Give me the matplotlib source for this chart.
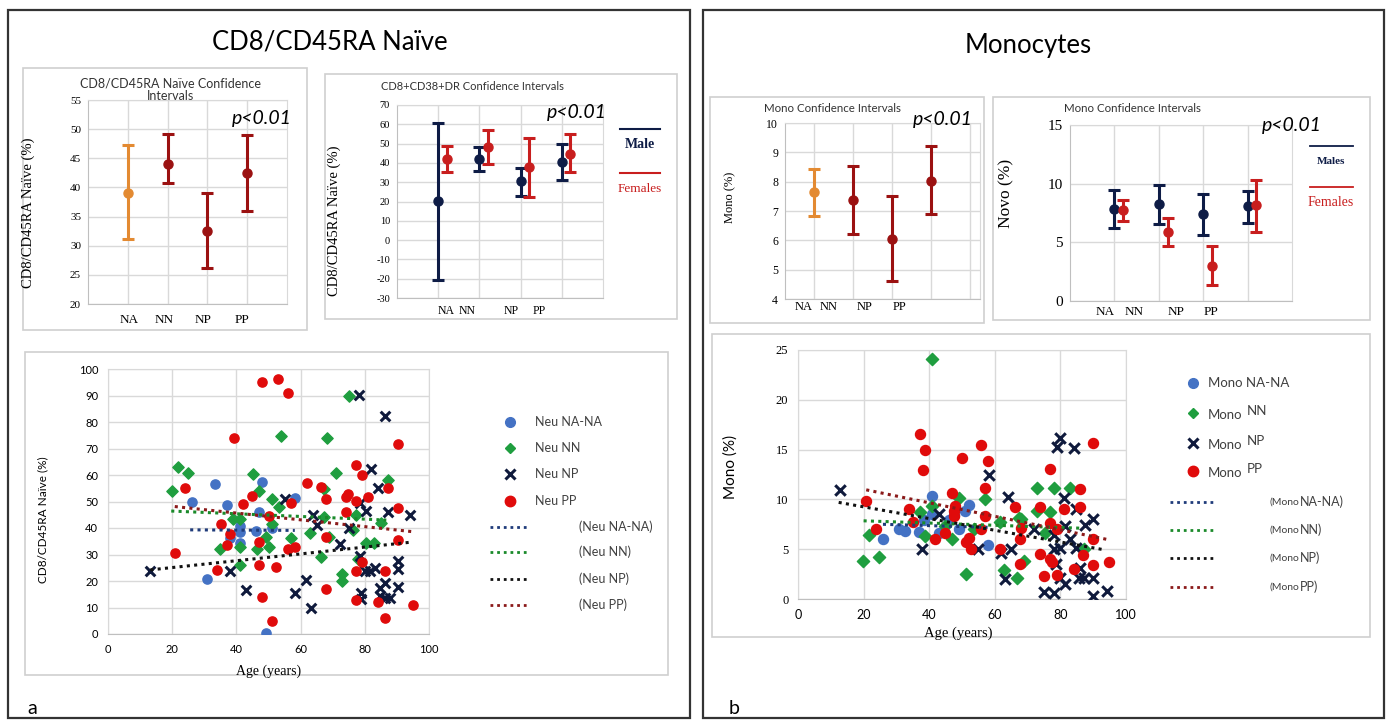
import numpy as np
import matplotlib.pyplot as plt
from matplotlib.patches import Rectangle

W, H = 1389, 722
SANS = ['Lato', 'DejaVu Sans']
SERIF = ['Liberation Serif', 'DejaVu Serif']
plt.rcParams['font.family'] = SANS
plt.rcParams['axes.unicode_minus'] = False

groups = ['NA', 'NN', 'NP', 'PP']

# CD8/CD45RA naive, confidence intervals (all subjects)
naive_mean = [39.1, 44.0, 32.6, 42.4]
naive_low = [31.1, 40.7, 26.1, 36.0]
naive_high = [47.3, 49.2, 39.1, 49.0]

# CD8+CD38+DR, confidence intervals by sex
dr_male_mean = [20.2, 41.8, 30.7, 40.4]
dr_male_low = [-20.5, 35.6, 23.1, 31.2]
dr_male_high = [60.5, 48.2, 37.3, 49.8]
dr_female_mean = [41.8, 48.4, 37.8, 44.5]
dr_female_low = [35.4, 39.2, 22.2, 35.4]
dr_female_high = [48.9, 57.2, 52.7, 55.1]

# monocytes, confidence intervals (all subjects)
mono_mean = [7.65, 7.36, 6.05, 8.02]
mono_low = [6.84, 6.23, 4.63, 6.90]
mono_high = [8.44, 8.52, 7.52, 9.20]

# monocytes, confidence intervals by sex
novo_male_mean = [7.80, 8.27, 7.40, 8.10]
novo_male_low = [6.20, 6.60, 5.65, 6.65]
novo_male_high = [9.50, 9.86, 9.10, 9.40]
novo_female_mean = [7.73, 5.90, 3.00, 8.15]
novo_female_low = [6.80, 4.70, 1.40, 5.90]
novo_female_high = [8.58, 7.10, 4.66, 10.30]

# CD8/CD45RA naive vs age, per group
neu_na_age = [26.2, 33.2, 37.1, 48.0, 47.0, 41.0, 41.0, 38.1, 46.2, 51.2, 58.2, 41.0, 30.9, 49.2]
neu_na_val = [49.9, 56.6, 48.8, 57.2, 45.9, 40.9, 38.6, 36.1, 38.9, 39.9, 51.2, 34.2, 20.9, 0.3]
neu_nn_age = [20.0, 21.9, 25.0, 38.9, 41.0, 35.0, 41.0, 41.0, 45.2, 47.0, 46.3, 49.3, 50.1, 51.1,
              51.1, 53.3, 54.0, 57.1, 62.8, 66.2, 67.2, 67.2, 68.2, 71.0, 73.0, 73.0, 75.1, 77.2,
              80.3, 83.0, 85.1, 87.3, 76.3, 69.0, 78.0]
neu_nn_val = [54.0, 62.9, 60.9, 43.3, 43.3, 32.1, 33.0, 26.0, 60.4, 54.0, 31.9, 36.5, 33.0, 50.9,
              41.4, 48.1, 74.8, 36.1, 38.2, 28.9, 44.3, 54.6, 74.1, 60.9, 22.6, 20.1, 89.8, 44.9,
              34.5, 34.5, 42.0, 58.1, 39.2, 36.7, 28.3]
neu_np_age = [13.2, 37.9, 43.1, 55.0, 58.2, 61.8, 63.9, 65.2, 63.1, 72.2, 75.1, 78.2, 82.0, 78.4,
              80.5, 84.1, 86.2, 87.3, 94.0, 78.4, 80.0, 81.5, 83.1, 78.9, 78.9, 84.6, 84.6, 86.2,
              87.7, 86.2, 90.2, 90.2, 90.2]
neu_np_val = [23.8, 23.8, 16.6, 50.9, 15.3, 20.4, 44.9, 41.1, 9.9, 33.8, 39.9, 90.2, 62.3, 49.6,
              46.5, 55.0, 82.3, 45.9, 44.9, 29.4, 23.8, 23.8, 24.8, 15.3, 13.3, 17.2, 14.3, 13.5,
              13.5, 19.4, 27.5, 24.7, 17.9]
neu_pp_age = [21.0, 24.1, 33.9, 35.1, 37.1, 38.1, 39.2, 42.2, 45.0, 47.0, 47.0, 48.1, 48.1, 50.1,
              51.1, 52.2, 53.1, 56.1, 56.1, 57.1, 58.2, 62.0, 66.2, 68.0, 68.0, 68.0, 74.0, 74.8,
              74.0, 77.2, 77.2, 79.2, 81.0, 77.2, 77.2, 79.2, 84.1, 86.2, 86.2, 87.3, 90.2, 90.2,
              90.2, 95.0]
neu_pp_val = [30.4, 55.0, 24.2, 41.5, 33.6, 37.6, 74.1, 48.9, 52.1, 34.6, 26.0, 95.0, 14.1, 44.7,
              4.9, 25.3, 96.1, 91.1, 31.9, 49.3, 33.0, 57.1, 55.6, 50.9, 36.5, 16.9, 51.6, 52.8,
              45.9, 63.8, 50.2, 60.0, 51.8, 23.9, 12.8, 27.0, 12.2, 23.8, 6.2, 55.0, 47.4, 35.5,
              71.6, 10.9]
# linear trends (start age, end age, start value, end value) for NA-NA, NN, NP, PP
neu_trend_x0 = [25.6, 19.7, 13.2, 20.8]
neu_trend_x1 = [58.2, 86.7, 94.0, 95.0]
neu_trend_y0 = [39.3, 46.4, 24.2, 48.1]
neu_trend_y1 = [39.1, 43.0, 34.6, 38.6]

# monocytes vs age, per group
mono_na_age = [25.9, 30.7, 32.7, 36.8, 38.3, 40.9, 40.9, 43.0, 46.0, 49.0, 52.0, 51.0, 57.8, 47.5]
mono_na_val = [6.0, 7.05, 6.8, 6.7, 7.95, 10.3, 8.5, 6.6, 7.95, 7.05, 9.4, 8.8, 5.45, 8.4]
mono_nn_age = [19.8, 21.5, 24.6, 37.1, 38.8, 40.9, 40.9, 46.9, 49.2, 44.9, 51.3, 53.6, 56.9, 61.7,
               62.9, 66.8, 67.3, 68.1, 68.8, 72.9, 72.9, 75.4, 76.9, 77.9, 83.0, 87.3]
mono_nn_val = [3.78, 6.4, 4.2, 8.7, 6.3, 24.1, 9.3, 6.0, 10.1, 7.3, 2.5, 7.0, 10.0, 7.7,
               2.9, 2.1, 8.1, 8.0, 3.8, 11.1, 8.8, 6.6, 8.7, 11.1, 11.1, 5.0]
mono_np_age = [12.9, 37.8, 43.0, 54.9, 58.1, 62.0, 63.0, 64.0, 65.0, 71.8, 74.9, 77.9, 77.9, 77.9,
               78.7, 79.0, 80.0, 80.0, 80.0, 81.0, 81.5, 81.5, 83.0, 84.0, 84.9, 84.9, 85.6, 86.1,
               87.1, 87.6, 89.8, 89.8, 89.8, 94.2]
mono_np_val = [10.96, 5.0, 8.5, 5.0, 12.4, 4.6, 2.0, 10.2, 5.0, 7.0, 0.67, 0.6, 6.45, 5.0,
               3.5, 15.3, 16.2, 5.1, 2.1, 10.1, 7.35, 1.5, 6.0, 15.2, 9.0, 5.1, 2.1, 3.1,
               2.1, 7.45, 8.0, 2.1, 0.33, 0.77]
mono_pp_age = [20.8, 23.9, 33.9, 35.0, 37.1, 38.8, 38.0, 41.9, 44.9, 47.0, 47.5, 48.0, 47.5, 50.0,
               51.2, 52.2, 52.7, 55.7, 55.7, 56.9, 56.9, 57.9, 61.7, 66.1, 67.8, 67.8, 68.1, 73.9,
               73.9, 74.9, 76.9, 76.9, 76.9, 77.4, 79.0, 79.0, 81.0, 84.0, 85.9, 85.9, 86.9, 89.8,
               89.8, 89.8, 94.9]
mono_pp_val = [9.8, 7.05, 9.06, 7.7, 16.6, 15.0, 13.0, 6.0, 6.6, 10.6, 8.8, 9.3, 8.3, 14.2,
               5.7, 6.1, 5.0, 7.0, 15.5, 11.1, 8.35, 13.9, 5.0, 9.2, 6.0, 3.5, 7.1, 9.2,
               4.5, 2.3, 13.1, 7.6, 4.0, 3.7, 7.05, 2.4, 9.06, 3.0, 9.2, 11.0, 4.45, 6.0,
               3.4, 15.7, 3.7]
mono_trend_x0 = [25.9, 20.0, 12.4, 20.8]
mono_trend_x1 = [57.8, 87.0, 93.2, 94.7]
mono_trend_y0 = [7.5, 7.85, 9.7, 10.96]
mono_trend_y1 = [7.2, 7.1, 4.95, 5.95]

ORANGE = '#e38a32'
DARKRED = '#9b1111'
NAVY = '#0e1c46'
FRED = '#c81e1e'
GRID = '#d9d9d9'
SC_BLUE = '#4472c4'
SC_GREEN = '#1f9e3f'
SC_NAVY = '#0f1a3c'
SC_RED = '#e00b0b'
TREND = ['#1f3b7a', '#1a8a2a', '#111111', '#8b1a1a']

fig = plt.figure(figsize=(W / 100, H / 100), dpi=100)


def px_axes(x0, y0, x1, y1):
    # axes placed by pixel box (top-left origin)
    return fig.add_axes([x0 / W, 1 - y1 / H, (x1 - x0) / W, (y1 - y0) / H])


# background layer in pixel units for frames, titles and legends
bg = fig.add_axes([0, 0, 1, 1])
bg.set_xlim(0, W)
bg.set_ylim(H, 0)
bg.axis('off')

for x0, y0, x1, y1 in [(8, 10, 690, 718), (703, 10, 1384, 718)]:
    bg.add_patch(Rectangle((x0, y0), x1 - x0, y1 - y0, fill=False, ec='#333333', lw=1.6))
for x0, y0, x1, y1 in [(23, 68, 307, 330), (325, 74, 677, 319), (710, 97, 984, 323),
                       (993, 97, 1370, 320), (25, 352, 668, 675), (712, 334, 1370, 637)]:
    bg.add_patch(Rectangle((x0, y0), x1 - x0, y1 - y0, fill=False, ec='#cfcfcf', lw=1.2))

bg.text(330, 42, 'CD8/CD45RA Naïve', fontsize=18.5, ha='center', va='center')
bg.text(1028, 45, 'Monocytes', fontsize=18.5, ha='center', va='center')
bg.text(27, 708, 'a', fontsize=14, ha='left', va='center')
bg.text(729, 708, 'b', fontsize=14, ha='left', va='center')

bg.text(170, 90, 'CD8/CD45RA Naïve Confidence\nIntervals', fontsize=9, ha='center',
        va='center', linespacing=1.1, color='#333333')
bg.text(472, 87, 'CD8+CD38+DR Confidence Intervals', fontsize=8, ha='center', va='center',
        color='#333333')
bg.text(833, 109, 'Mono Confidence Intervals', fontsize=8.3, ha='center', va='center',
        color='#333333')
bg.text(1132, 109, 'Mono Confidence Intervals', fontsize=8.3, ha='center', va='center',
        color='#333333')


def style_ci(ax, xlim, xgrid, ylim, yticks, tick_size):
    ax.set_xlim(*xlim)
    ax.set_ylim(*ylim)
    ax.set_xticks(xgrid)
    ax.set_xticklabels([])
    ax.set_yticks(yticks)
    ax.tick_params(length=0, labelsize=tick_size, pad=5)
    for lab in ax.get_yticklabels():
        lab.set_family(SERIF)
    ax.grid(color=GRID, lw=1)
    ax.set_axisbelow(True)
    for s in ax.spines.values():
        s.set_color(GRID)
    ax.spines['left'].set_color('#bfbfbf')
    ax.spines['bottom'].set_color('#bfbfbf')


def draw_ci(ax, x, mean, low, high, colors):
    for xi, m, lo, hi, c in zip(x, mean, low, high, colors):
        ax.errorbar([xi], [m], yerr=[[m - lo], [hi - m]], fmt='o', color=c, ms=6.5,
                    capsize=4, elinewidth=2.2, capthick=2.2, zorder=3)


def cat_labels(ax, xs, y, size):
    for xi, g in zip(xs, groups):
        ax.text(xi, y, g, transform=ax.get_xaxis_transform(), ha='center', va='center',
                fontsize=size, family=SERIF, clip_on=False)


def p_label(ax, x, y):
    ax.text(x, y, 'p<0.01', transform=ax.transAxes, ha='center', va='center',
            fontsize=14, style='italic', clip_on=False)


pos = np.arange(1, 5)

# CD8/CD45RA naive CI
a1 = px_axes(88, 100, 287, 304)
style_ci(a1, (0, 5), [1, 2, 3, 4], (20, 55), np.arange(20, 56, 5), 8)
draw_ci(a1, pos, naive_mean, naive_low, naive_high, [ORANGE, DARKRED, DARKRED, DARKRED])
cat_labels(a1, [1.03, 1.9, 2.9, 3.86], -0.078, 9.5)
a1.set_ylabel('CD8/CD45RA Naïve (%)', family=SERIF, fontsize=10.5)
a1.yaxis.set_label_coords(-0.266, 0.446)
p_label(a1, 0.874, 0.91)

# CD8+CD38+DR CI by sex
a2 = px_axes(397, 105, 603, 298)
style_ci(a2, (0, 5), [1, 2, 3, 4], (-30, 70), np.arange(-30, 71, 10), 7.5)
draw_ci(a2, pos, dr_male_mean, dr_male_low, dr_male_high, [NAVY] * 4)
draw_ci(a2, pos + 0.21, dr_female_mean, dr_female_low, dr_female_high, [FRED] * 4)
cat_labels(a2, [1.18, 1.7, 2.76, 3.46], -0.067, 8.5)
a2.set_ylabel('CD8/CD45RA Naïve (%)', family=SERIF, fontsize=10.5)
a2.yaxis.set_label_coords(-0.27, 0.40)
p_label(a2, 0.874, 0.96)
bg.plot([620, 660], [129, 129], color=NAVY, lw=1.5)
bg.text(640, 144, 'Male', color=NAVY, family=SERIF, fontsize=10, fontweight='bold',
        ha='center', va='center')
bg.plot([620, 660], [173, 173], color=FRED, lw=1.5)
bg.text(640, 189, 'Females', color=FRED, family=SERIF, fontsize=9.5, ha='center', va='center')

# Monocyte CI
a3 = px_axes(785, 123, 980, 299)
style_ci(a3, (0.25, 5.25), [1, 2, 3, 4, 5], (4, 10), np.arange(4, 11, 1), 8.5)
draw_ci(a3, pos, mono_mean, mono_low, mono_high, [ORANGE, DARKRED, DARKRED, DARKRED])
cat_labels(a3, [0.74, 1.36, 2.3, 3.18], -0.045, 9)
a3.set_ylabel('Mono (%)', family=SERIF, fontsize=9)
a3.yaxis.set_label_coords(-0.25, 0.58)
p_label(a3, 0.81, 1.02)

# Monocyte CI by sex
a4 = px_axes(1070, 125, 1292, 301)
style_ci(a4, (0, 5), [1, 2, 3, 4], (0, 15), [0, 5, 10, 15], 11)
draw_ci(a4, pos, novo_male_mean, novo_male_low, novo_male_high, [NAVY] * 4)
draw_ci(a4, pos + 0.2, novo_female_mean, novo_female_low, novo_female_high, [FRED] * 4)
cat_labels(a4, [0.79, 1.45, 2.38, 3.18], -0.0625, 9.5)
a4.set_ylabel('Novo (%)', family=SERIF, fontsize=12.5)
a4.yaxis.set_label_coords(-0.25, 0.61)
p_label(a4, 1.0, 1.0)
bg.plot([1310, 1353], [146, 146], color=NAVY, lw=1.3)
bg.text(1331, 161, 'Males', color=NAVY, family=SERIF, fontsize=8, fontweight='bold',
        ha='center', va='center')
bg.plot([1310, 1353], [187, 187], color=FRED, lw=1.3)
bg.text(1331, 203, 'Females', color=FRED, family=SERIF, fontsize=10, ha='center', va='center')


def style_scatter(ax, ymax, ystep, xtick_font, ytick_font, size):
    ax.set_xlim(0, 100)
    ax.set_ylim(0, ymax)
    ax.set_xticks(np.arange(0, 101, 20))
    ax.set_yticks(np.arange(0, ymax + 1, ystep))
    ax.tick_params(length=0, labelsize=size, pad=7)
    for lab in ax.get_xticklabels():
        lab.set_family(xtick_font)
    for lab in ax.get_yticklabels():
        lab.set_family(ytick_font)
    ax.grid(color=GRID, lw=1)
    ax.set_axisbelow(True)
    for s in ax.spines.values():
        s.set_color(GRID)
    ax.spines['bottom'].set_color('#bfbfbf')


def draw_groups(ax, series, trends, msize):
    styles = [dict(marker='o', color=SC_BLUE, s=msize),
              dict(marker='D', color=SC_GREEN, s=msize * 0.75),
              dict(marker='x', color=SC_NAVY, s=msize * 1.1, linewidths=2.2),
              dict(marker='o', color=SC_RED, s=msize)]
    for (ages, vals), st in zip(series, styles):
        ax.scatter(ages, vals, zorder=3, **st)
    for x0, x1, y0, y1, c in zip(*trends, TREND):
        ax.plot([x0, x1], [y0, y1], ls=(0, (1, 1.4)), lw=2.2, color=c, zorder=4)


# CD8/CD45RA naive vs age
a5 = px_axes(108, 369, 429, 634)
style_scatter(a5, 100, 10, SANS, SANS, 8)
draw_groups(a5, [(neu_na_age, neu_na_val), (neu_nn_age, neu_nn_val),
                 (neu_np_age, neu_np_val), (neu_pp_age, neu_pp_val)],
            (neu_trend_x0, neu_trend_x1, neu_trend_y0, neu_trend_y1), 44)
a5.set_ylabel('CD8/CD45RA Naïve (%)', fontsize=8.5)
a5.yaxis.set_label_coords(-0.187, 0.43)
a5.set_xlabel('Age (years)', family=SERIF, fontsize=10)
a5.xaxis.set_label_coords(0.5, -0.117)

# monocytes vs age
a6 = px_axes(798, 350, 1126, 599)
style_scatter(a6, 25, 5, SANS, SERIF, 9)
draw_groups(a6, [(mono_na_age, mono_na_val), (mono_nn_age, mono_nn_val),
                 (mono_np_age, mono_np_val), (mono_pp_age, mono_pp_val)],
            (mono_trend_x0, mono_trend_x1, mono_trend_y0, mono_trend_y1), 52)
a6.set_ylabel('Mono (%)', fontsize=11)
a6.yaxis.set_label_coords(-0.183, 0.53)
a6.set_xlabel('Age (years)', family=SERIF, fontsize=10.5)
a6.xaxis.set_label_coords(0.49, -0.112)

# legends of the two scatter panels
leg_markers = [dict(marker='o', color=SC_BLUE, ms=7), dict(marker='D', color=SC_GREEN, ms=5),
               dict(marker='x', color=SC_NAVY, ms=7, mew=2.2), dict(marker='o', color=SC_RED, ms=7.5)]
for y, g, st in zip([422, 448, 474, 501], ['NA-NA', 'NN', 'NP', 'PP'], leg_markers):
    bg.plot([510], [y], ls='none', **st)
    bg.text(535, y, 'Neu ' + g, fontsize=9, va='center', color='#404040')
for y, g, c in zip([527, 552, 579, 605], ['NA-NA', 'NN', 'NP', 'PP'], TREND):
    bg.plot([490, 528], [y, y], ls=(0, (1, 1.4)), lw=2, color=c)
    bg.text(579, y, '(Neu ' + g + ')', fontsize=9, va='center', color='#404040')

for i, (y, g, st) in enumerate(zip([383, 413, 443, 471], ['NA-NA', 'NN', 'NP', 'PP'], leg_markers)):
    bg.plot([1193], [y], ls='none', **st)
    if i == 0:
        bg.text(1208, y, 'Mono NA-NA', fontsize=9.5, va='center', color='#404040')
    else:
        t = bg.text(1208, y + 2, 'Mono', fontsize=9.5, va='center', color='#404040')
        bg.annotate(g, xy=(1, 0.5), xycoords=t, xytext=(3, 3), textcoords='offset points',
                    fontsize=9.5, va='center', color='#404040')
for y, g, c in zip([502, 530, 558, 587], ['NA-NA', 'NN', 'NP', 'PP'], TREND):
    bg.plot([1170, 1213], [y, y], ls=(0, (1, 1.4)), lw=2, color=c)
    t = bg.text(1270, y, '(Mono', fontsize=7.5, va='center', color='#404040')
    bg.annotate(g + ')', xy=(1, 0.5), xycoords=t, va='center', fontsize=9, color='#404040')

fig.savefig('out.png', dpi=100)
